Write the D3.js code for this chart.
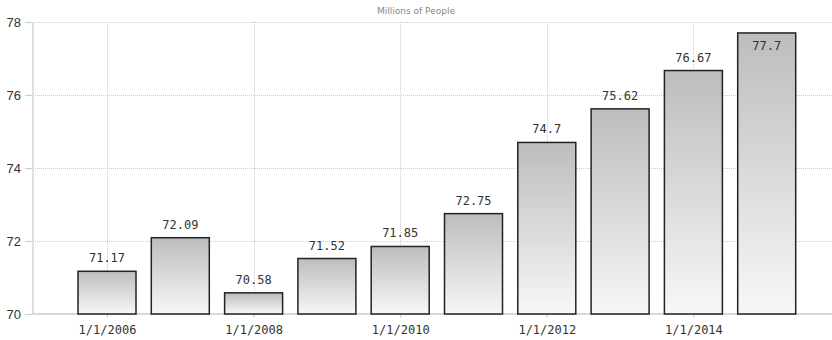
<!DOCTYPE html>
<html>
<head>
<meta charset="utf-8">
<script src="https://cdn.jsdelivr.net/npm/d3@7"></script>
<style>
  body { margin: 0; background: #fff; }
  .chart-title { font-family: 'DejaVu Sans', sans-serif; font-size: 9px; fill: #888; }
  .g-axis-y text { font-family: 'Liberation Sans', Arial, sans-serif; font-size: 13px; fill: #333; }
  .g-axis-x text { font-family: 'DejaVu Sans Mono', monospace; font-size: 12px; fill: #333; }
  .g-axis-y path, .g-axis-x path { display: none; }
  .g-axis-y line, .g-axis-x line { stroke: #ccc; }
  .grid line { stroke: #ccc; stroke-dasharray: 1 1; }
  .bar { stroke: #222; stroke-width: 1.5; }
  .label-text { font-family: 'DejaVu Sans Mono', monospace; font-size: 12px; fill: #333; }
</style>
</head>
<body>
<div id="chart"></div>
<script>
// data
const years = [2006, 2007, 2008, 2009, 2010, 2011, 2012, 2013, 2014, 2015]
const values = [71.17, 72.09, 70.58, 71.52, 71.85, 72.75, 74.7, 75.62, 76.67, 77.7]
const yTicks = [70, 72, 74, 76, 78]
const xTicks = [2006, 2008, 2010, 2012, 2014]
const title = 'Millions of People'

const width = 832
const height = 340
const marginLeft = 33
const marginTop = 22
const marginBottom = 26
const barWidth = 58

const data = years.map((y, i) => ({ year: y, value: values[i] }))

const $svg = d3.select('#chart').append('svg')
  .attr('width', width)
  .attr('height', height)

// scales
const scaleX = d3.scaleLinear()
  .domain([2005, 2016])
  .range([marginLeft + 0.7, 840])

const scaleY = d3.scaleLinear()
  .domain([70, 78])
  .range([height - marginBottom, marginTop])

const bottom = scaleY(70)

// gradient for bars
const grad = $svg.append('defs').append('linearGradient')
  .attr('id', 'barGrad')
  .attr('x1', 0).attr('y1', 0).attr('x2', 0).attr('y2', 1)
grad.append('stop').attr('offset', '0%').attr('stop-color', '#bdbdbd')
grad.append('stop').attr('offset', '100%').attr('stop-color', '#f7f7f7')

// grid
const $grid = $svg.append('g').attr('class', 'grid')
$grid.selectAll('.h')
  .data(yTicks.filter(d => d > 70))
  .enter().append('line')
  .attr('x1', marginLeft).attr('x2', width)
  .attr('y1', d => Math.round(scaleY(d)) + 0.5)
  .attr('y2', d => Math.round(scaleY(d)) + 0.5)
$grid.selectAll('.v')
  .data(xTicks)
  .enter().append('line')
  .attr('x1', d => Math.round(scaleX(d)) + 0.5)
  .attr('x2', d => Math.round(scaleX(d)) + 0.5)
  .attr('y1', marginTop).attr('y2', bottom)

// axes
$svg.append('g')
  .attr('class', 'g-axis-y')
  .attr('transform', `translate(${marginLeft}, 0)`)
  .call(d3.axisLeft(scaleY)
    .tickValues(yTicks)
    .tickSize(8)
    .tickPadding(4)
    .tickFormat(d3.format('d')))

$svg.append('g')
  .attr('class', 'g-axis-x')
  .attr('transform', `translate(0, ${bottom})`)
  .call(d3.axisBottom(scaleX)
    .tickValues(xTicks)
    .tickSize(4)
    .tickPadding(7)
    .tickFormat(d => `1/1/${d}`))

// axis lines
$svg.append('line')
  .attr('x1', marginLeft).attr('x2', marginLeft)
  .attr('y1', marginTop).attr('y2', bottom)
  .attr('stroke', '#ddd').attr('stroke-width', 2)
$svg.append('line')
  .attr('x1', marginLeft).attr('x2', width)
  .attr('y1', bottom).attr('y2', bottom)
  .attr('stroke', '#ccc').attr('stroke-width', 1.5)

// bars
const $vis = $svg.append('g').attr('class', 'g-vis')
$vis.selectAll('.bar')
  .data(data)
  .enter().append('rect')
  .attr('class', 'bar')
  .attr('x', d => scaleX(d.year) - barWidth / 2)
  .attr('y', d => scaleY(d.value))
  .attr('width', barWidth)
  .attr('height', d => bottom - scaleY(d.value))
  .attr('fill', 'url(#barGrad)')

// labels: above the bar, or inside if too close to top
$vis.selectAll('.label-text')
  .data(data)
  .enter().append('text')
  .attr('class', 'label-text')
  .attr('text-anchor', 'middle')
  .attr('x', d => scaleX(d.year))
  .attr('y', d => {
    const top = scaleY(d.value)
    return top - 20 < marginTop ? top + 17 : top - 9
  })
  .text(d => d.value)

// title
$svg.append('text')
  .attr('class', 'chart-title')
  .attr('x', 416)
  .attr('y', 14)
  .attr('text-anchor', 'middle')
  .text(title)
</script>
</body>
</html>
